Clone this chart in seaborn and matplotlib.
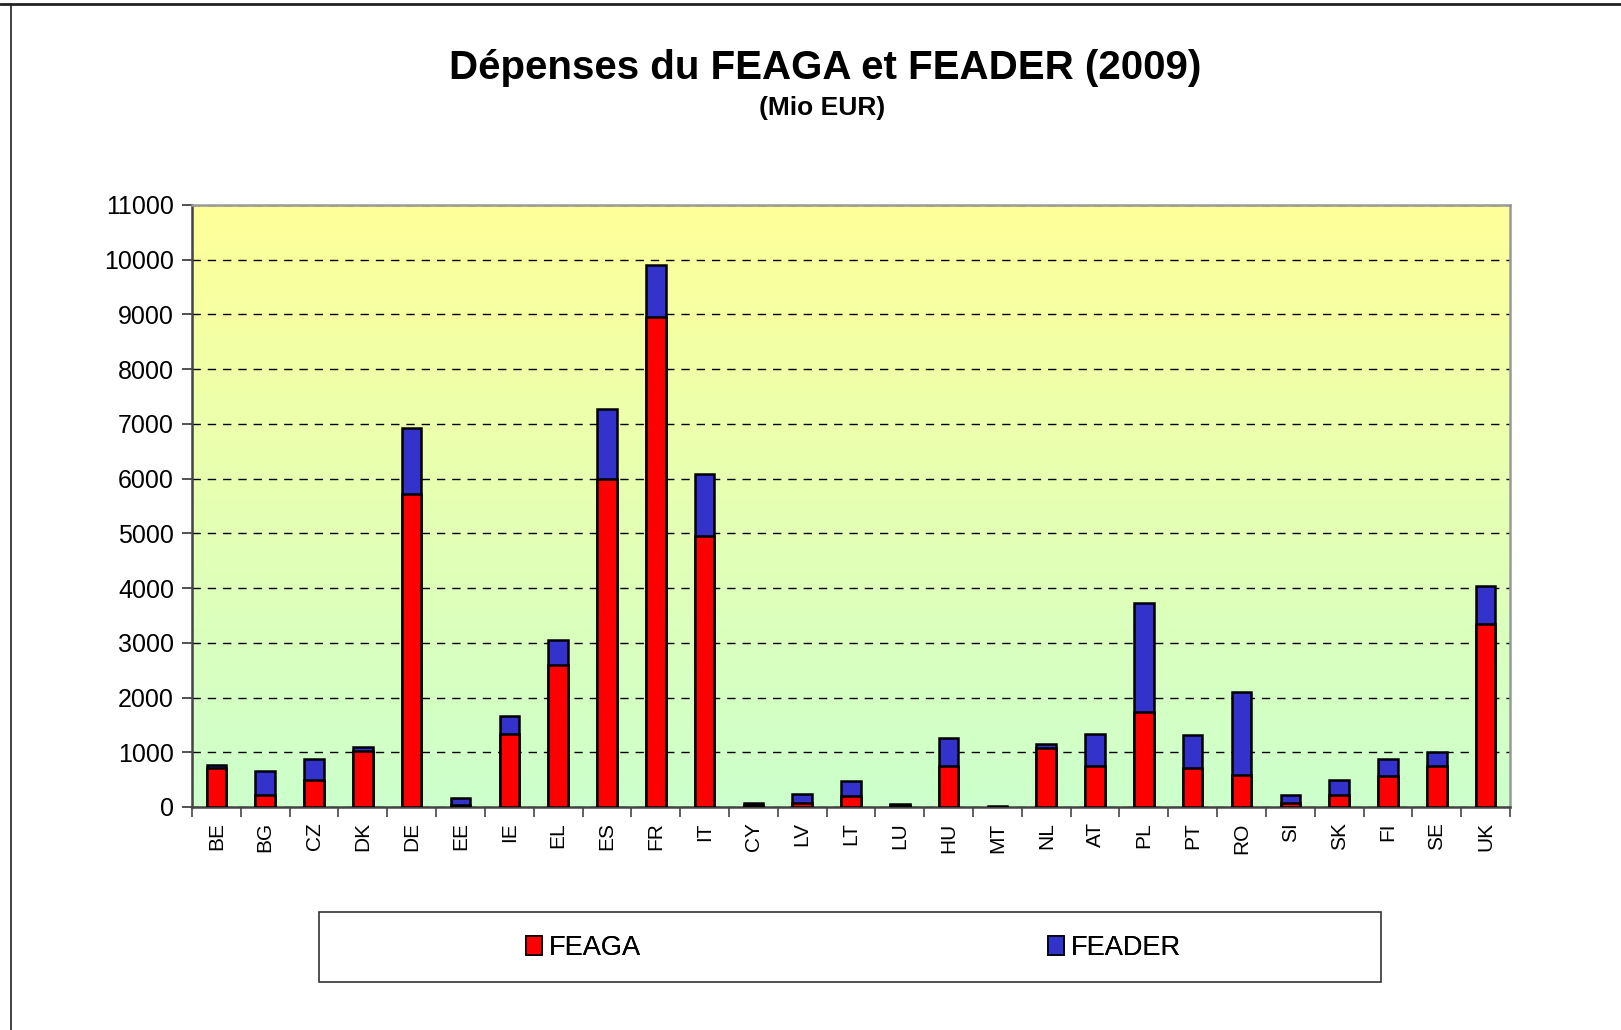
import numpy as np
import pandas as pd
import matplotlib
matplotlib.use("Agg")
import matplotlib.pyplot as plt
import seaborn as sns
from matplotlib.lines import Line2D
from matplotlib.patches import Rectangle, Patch

# Data (Mio EUR)
countries = ["BE", "BG", "CZ", "DK", "DE", "EE", "IE", "EL", "ES", "FR", "IT", "CY", "LV", "LT",
             "LU", "HU", "MT", "NL", "AT", "PL", "PT", "RO", "SI", "SK", "FI", "SE", "UK"]
feaga = [720, 225, 500, 1030, 5725, 45, 1340, 2600, 6000, 8950, 4945, 40, 75, 210,
         40, 755, 5, 1075, 745, 1745, 720, 590, 65, 220, 575, 755, 3345]
feader = [55, 440, 385, 75, 1200, 125, 330, 450, 1270, 950, 1140, 25, 165, 265,
          15, 500, 15, 85, 590, 1985, 590, 1510, 150, 275, 305, 250, 695]
yticks = list(range(0, 11001, 1000))

df = pd.DataFrame({"pays": countries, "FEAGA": feaga, "FEADER": feader})
df["total"] = df["FEAGA"] + df["FEADER"]

sns.set_style("white")
plt.rcParams['font.family'] = ['Liberation Sans', 'DejaVu Sans']
plt.rcParams['text.color'] = 'black'
plt.rcParams['xtick.labelcolor'] = 'black'
plt.rcParams['ytick.labelcolor'] = 'black'

red = "#FF0000"
blue = "#3333CC"

fig = plt.figure(figsize=(16.21, 10.30), dpi=100)
ax = fig.add_axes([192 / 1621, 1 - 807 / 1030, (1510 - 192) / 1621, (807 - 205) / 1030])

# gradient background yellow -> light green
grad = np.linspace(0, 1, 256).reshape(-1, 1)
top_c = np.array([255, 255, 153]) / 255
bot_c = np.array([204, 255, 204]) / 255
img = top_c * (1 - grad[..., None]) + bot_c * grad[..., None]
img = np.repeat(img, 2, axis=1)
ax.imshow(img, extent=[0, 1, 0, 1], transform=ax.transAxes, aspect="auto", zorder=0)

# stacked bars: total (blue) then FEAGA (red) on top
sns.barplot(data=df, x="pays", y="total", color=blue, width=0.4, edgecolor="black",
            linewidth=1.8, saturation=1, ax=ax, zorder=3)
sns.barplot(data=df, x="pays", y="FEAGA", color=red, width=0.4, edgecolor="black",
            linewidth=1.8, saturation=1, ax=ax, zorder=4)

ax.set_xlim(-0.5, len(countries) - 0.5)
ax.set_ylim(0, 11000)
ax.set_yticks(yticks)
ax.set_yticklabels([str(v) for v in yticks], fontsize=18)
ax.yaxis.grid(True, linestyle=(0, (6, 5)), color="black", linewidth=1, zorder=1)
ax.set_axisbelow(True)

ax.set_xticks(range(len(countries)))
ax.set_xticklabels(countries, rotation=90, fontsize=15)
ax.tick_params(axis="x", length=0, pad=11)
ax.tick_params(axis="y", length=7, width=1.2, color="#333333", pad=6, left=True)
# ticks between categories
ax.set_xticks(np.arange(-0.5, len(countries)), minor=True)
ax.tick_params(axis="x", which="minor", length=7, width=1.2, color="#444444", bottom=True)
ax.set_xlabel("")
ax.set_ylabel("")

for side in ["left", "bottom"]:
    ax.spines[side].set_color("#444444")
    ax.spines[side].set_linewidth(1.8)
for side in ["top", "right"]:
    ax.spines[side].set_color("#999999")
    ax.spines[side].set_linewidth(1.8)
    ax.spines[side].set_visible(True)

fig.text(825 / 1621, 1 - 68 / 1030, "Dépenses du FEAGA et FEADER (2009)",
         ha="center", va="center", fontsize=29, fontweight="bold")
fig.text(822 / 1621, 1 - 108 / 1030, "(Mio EUR)",
         ha="center", va="center", fontsize=19, fontweight="bold")

# legend box
fig.add_artist(Rectangle((319 / 1621, 1 - 982 / 1030), (1381 - 319) / 1621, 70 / 1030,
                         transform=fig.transFigure, facecolor="white", edgecolor="#333333",
                         linewidth=1.2))
leg_y = 1 - 948 / 1030
for name, col, xpos in [("FEAGA", red, 526), ("FEADER", blue, 1048)]:
    lg = fig.legend(handles=[Patch(facecolor=col, edgecolor="black", linewidth=1.2, label=name)],
                    loc="center left", bbox_to_anchor=(xpos / 1621, leg_y), frameon=False,
                    fontsize=19.5, handlelength=0.6, handleheight=0.75, handletextpad=0.25,
                    borderpad=0, borderaxespad=0)
    fig.add_artist(lg)

# outer frame lines
fig.add_artist(Line2D([0, 1], [1 - 4 / 1030, 1 - 4 / 1030], transform=fig.transFigure,
                      color="#222222", linewidth=2))
fig.add_artist(Line2D([11 / 1621, 11 / 1621], [0, 1 - 4 / 1030], transform=fig.transFigure,
                      color="#222222", linewidth=1.2))

fig.savefig("out.png", dpi=100)
